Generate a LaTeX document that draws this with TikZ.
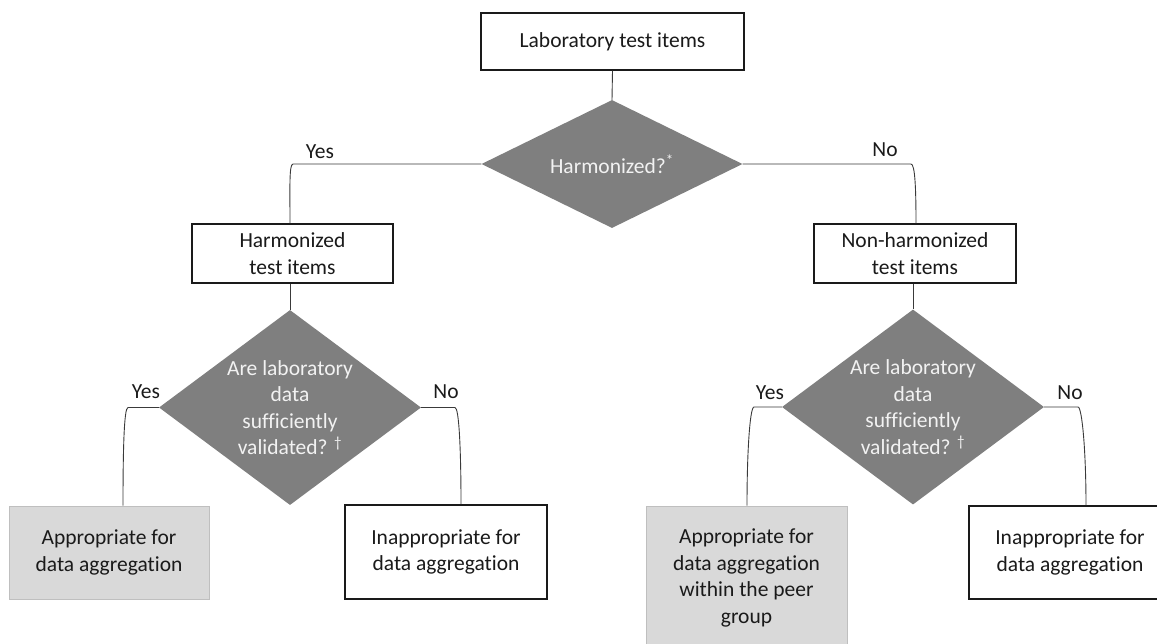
\documentclass[tikz,border=0pt]{standalone}
\usepackage{fontspec}
\setmainfont{Carlito}[Ligatures=CommonOff]
\usetikzlibrary{shapes.geometric}
\definecolor{ink}{HTML}{1A1A1A}
\definecolor{wire}{HTML}{3A3A3A}
\definecolor{decfill}{HTML}{7F7F7F}
\definecolor{decink}{HTML}{F2F2F2}
\definecolor{okfill}{HTML}{D9D9D9}
\definecolor{okedge}{HTML}{BFBFBF}

\begin{document}
\begin{tikzpicture}[x=1pt,y=-1pt]
\tikzstyle{every node}+=[inner sep=0pt, align=center, text=ink, font=\fontsize{21.5}{26.5}\selectfont]
\tikzstyle{box}=[draw=ink, line width=1.4pt, fill=white]
\tikzstyle{okbox}=[draw=okedge, line width=0.8pt, fill=okfill]
\tikzstyle{decision}=[diamond, fill=decfill, text=decink, inner sep=-8pt]
\tikzstyle{link}=[draw=wire, line width=0.9pt]
\useasboundingbox (0,0) rectangle (1157,643);
\node [box, minimum width=263, minimum height=57] (lab) at (612.5,41.5) {Laboratory test items};
\node [decision, minimum width=261, minimum height=128] (harm) at (612,164) {Harmonized?\textsuperscript{*}};
\node [box, minimum width=201, minimum height=59] (hti) at (292.5,253.5) {Harmonized\\test items};
\node [box, minimum width=202, minimum height=59] (nti) at (915,253.5) {Non-harmonized\\test items};
\node [decision, minimum width=262, minimum height=195] (valh) at (290,407.5) {Are laboratory\\data\\sufficiently\\validated? \textsuperscript{\textdagger}};
\node [decision, minimum width=262, minimum height=195] (valn) at (913,407) {Are laboratory\\data\\sufficiently\\validated? \textsuperscript{\textdagger}};
\node [okbox, minimum width=200, minimum height=93] (okh) at (109,552.5) {Appropriate for\\data aggregation};
\node [box, minimum width=202, minimum height=94] (noh) at (446,552) {Inappropriate for\\data aggregation};
\node [okbox, minimum width=201, minimum height=144] (okn) at (746.5,578) {Appropriate for\\data aggregation\\within the peer\\group};
\node [box, minimum width=202, minimum height=93] (non) at (1070,552.5) {Inappropriate for\\data aggregation};
\node (yes1) at (320,152) {Yes};
\node (no1) at (885,150) {No};
\node (yes2) at (146,392) {Yes};
\node (no2) at (446,392) {No};
\node (yes3) at (770,393) {Yes};
\node (no3) at (1070,393) {No};
\draw [link] (lab.south) -- (harm.north);
\draw [link] (valh.north |- hti.south) -- (valh.north);
\draw [link] (valn.north |- nti.south) -- (valn.north);
\draw [link] (harm.west) -- ([xshift=0.5]hti.north |- harm.west) .. controls +(-4,0) and +(0,-35) .. ([xshift=-2.5]hti.north);
\draw [link] (harm.east) -- ([xshift=-4]nti.north |- harm.east) .. controls +(4,0) and +(0,-35) .. ([xshift=1]nti.north);
\draw [link] (valh.west) -- ([xshift=19]okh.north |- valh.west) .. controls +(-4,0) and +(0,-55) .. ([xshift=14]okh.north);
\draw [link] (valh.east) -- ([xshift=9]noh.north |- valh.east) .. controls +(4,0) and +(0,-55) .. ([xshift=15]noh.north);
\draw [link] (valn.west) -- ([xshift=7.5]okn.north |- valn.west) .. controls +(-4,0) and +(0,-55) .. ([xshift=0.5]okn.north);
\draw [link] (valn.east) -- ([xshift=8]non.north |- valn.east) .. controls +(4,0) and +(0,-55) .. ([xshift=16]non.north);
\end{tikzpicture}
\end{document}
